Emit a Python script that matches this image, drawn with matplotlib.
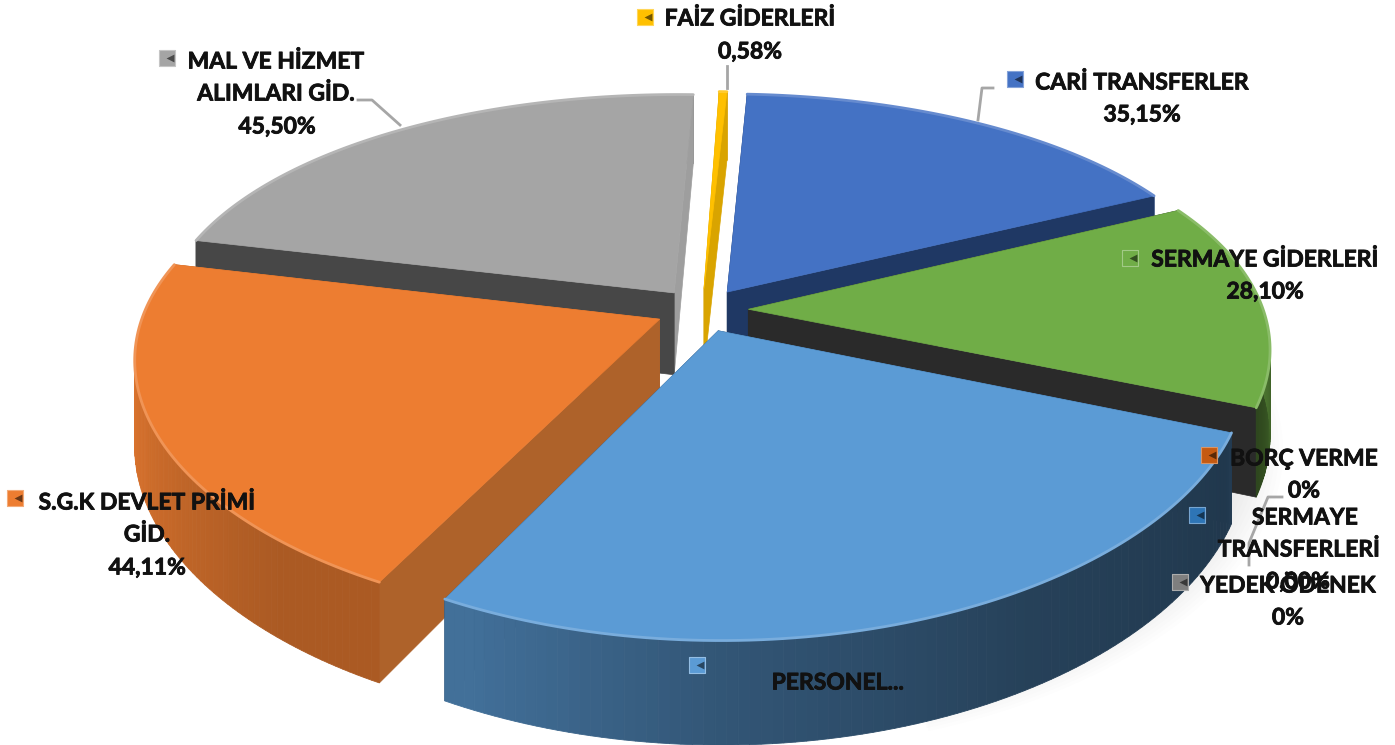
import numpy as np
import matplotlib
matplotlib.use("Agg")
import matplotlib.pyplot as plt
from matplotlib.patches import Polygon
from matplotlib.colors import to_rgb
import matplotlib.patheffects as pe

# ---- data (clockwise from the top) ----
categories = ["FAİZ GİDERLERİ", "CARİ TRANSFERLER", "SERMAYE GİDERLERİ", "BORÇ VERME",
              "SERMAYE TRANSFERLERİ", "YEDEK ÖDENEK", "PERSONEL", "S.G.K DEVLET PRİMİ GİD.",
              "MAL VE HİZMET ALIMLARI GİD."]
values = [0.58, 35.15, 28.10, 0.0, 0.0, 0.0, 55.0, 44.11, 45.50]
colors = ["#FFC000", "#4472C4", "#70AD47", "#C55A11", "#2E75B6", "#7F7F7F", "#5B9BD5", "#ED7D31", "#A5A5A5"]
# side faces of each slice: the face at its lower angle, the face at its higher angle
faces = {"FAİZ GİDERLERİ": ("#D9A400", "#D9A400"),
         "CARİ TRANSFERLER": ("#1F3864", "#1F3864"),
         "SERMAYE GİDERLERİ": ("#2A2A2A", "#2A2A2A"),
         "PERSONEL": ("#1E3A58", "#1E3A58"),
         "S.G.K DEVLET PRİMİ GİD.": ("#AE622A", "#AE622A"),
         "MAL VE HİZMET ALIMLARI GİD.": ("#9E9E9E", "#474747")}
draw_order = ["MAL VE HİZMET ALIMLARI GİD.", "FAİZ GİDERLERİ", "CARİ TRANSFERLER",
              "SERMAYE GİDERLERİ", "S.G.K DEVLET PRİMİ GİD.", "PERSONEL"]

W, H = 1395, 745
fig = plt.figure(figsize=(W / 100, H / 100), dpi=100)
ax = fig.add_axes([0, 0, 1, 1])

explode = [0.09] * len(values)
wedges, _ = ax.pie(values, explode=explode, startangle=88, counterclock=False, colors=colors)
geom = {}
for name, w in zip(categories, wedges):
    geom[name] = (w.center, w.theta1, w.theta2, w.r)
    w.remove()
ax.set_aspect("auto")
ax.set_xlim(0, W)
ax.set_ylim(H, 0)
ax.axis("off")

CX, CY, RX, RY, K, KX, DEPTH = 702, 310, 515, 242, 0.19, 0.15, 83


def project(x, y, z=0.0):
    x, y = np.asarray(x, float), np.asarray(y, float)
    s = 1 / (1 + K * y)
    sx = 1 / (1 + KX * y)
    return CX + RX * x * sx, CY - RY * y * s + DEPTH * z * s


def shade(theta):
    t = np.mod(theta, 360)
    t = np.where(t < 60, t + 360, t)
    return np.interp(t, [60, 120, 180, 200, 230, 245, 270, 300, 335, 360, 385, 420],
                     [.6, .7, .97, .88, .72, .72, .55, .42, .36, .68, .72, .7])


def scaled(col, f):
    return tuple(np.clip(np.array(to_rgb(col)) * f, 0, 1))


def lighter(col, f):
    c = np.array(to_rgb(col))
    return tuple(c + (1 - c) * f)


# soft shadow behind the pie, lower right
for g in np.linspace(1.0, 1.07, 10):
    th = np.radians(np.linspace(-72, 22, 80))
    sx, sy = project(0.04 + g * np.cos(th), -0.02 + g * np.sin(th), 1.05)
    ax.fill(np.r_[CX + 200, sx], np.r_[CY + 150, sy], color="k", alpha=.008, lw=0, zorder=0.5)

z = 1


def wall(ax_x, ax_y, th, col, name, mask):
    global z
    for j in range(len(th) - 1):
        if not mask[j]:
            continue
        q = [project(ax_x[j], ax_y[j], 0), project(ax_x[j + 1], ax_y[j + 1], 0),
             project(ax_x[j + 1], ax_y[j + 1], 1), project(ax_x[j], ax_y[j], 1)]
        f = float(shade(th[j])) if name != "FAİZ GİDERLERİ" else .85
        fc = scaled(col, f)
        ax.add_patch(Polygon(q, closed=True, fc=fc, ec=fc, lw=.6, zorder=z))
    z += 1


for name in draw_order:
    i = categories.index(name)
    (cx, cy), t1, t2, r = geom[name]
    col = colors[i]
    th = np.linspace(t1, t2, 90)
    ax_x = cx + r * np.cos(np.radians(th))
    ax_y = cy + r * np.sin(np.radians(th))
    back = np.sin(np.radians(th)) >= 0

    # the far part of the curved wall, then the radial faces, then the near part
    wall(ax_x, ax_y, th, col, name, back)
    for ang, fc in zip((t1, t2), faces[name]):
        ex, ey = cx + r * np.cos(np.radians(ang)), cy + r * np.sin(np.radians(ang))
        a = project(cx, cy, 0); b = project(ex, ey, 0)
        c = project(ex, ey, 1); d = project(cx, cy, 1)
        ax.add_patch(Polygon([a, b, c, d], closed=True, fc=fc, ec=fc, lw=.5, zorder=z))
    z += 1
    wall(ax_x, ax_y, th, col, name, ~back)

    # top surface
    px = np.concatenate([[cx], ax_x])
    py = np.concatenate([[cy], ax_y])
    tx, ty = project(px, py)
    ax.add_patch(Polygon(np.column_stack([tx, ty]), closed=True, fc=col, ec=col, lw=.5, zorder=z))
    z += 1
    rx, ry = project(ax_x, ax_y)
    ax.plot(rx, ry, color=lighter(col, .18), lw=2, zorder=z, solid_capstyle="round")
    z += 1

# leader lines
leader_color = "#A6A6A6"
leaders = [([358, 372, 400], [100, 100, 125]),
           ([727, 727], [66, 88]),
           ([993, 982, 978], [88, 88, 120]),
           ([1282, 1268, 1249, 1249], [497, 497, 543, 565])]
for lx, ly in leaders:
    ax.plot(lx, ly, color=leader_color, lw=2, zorder=100)


# legend keys inside the data labels
def key(x, y, col):
    ax.scatter([x], [y], marker="s", s=125, color=[col], edgecolors=[lighter(col, .35)],
               linewidths=.8, zorder=110)
    ax.scatter([x + 2.5], [y], marker="<", s=32, color=[scaled(col, .45)], linewidths=0, zorder=111)


key_positions = {"FAİZ GİDERLERİ": (645, 17), "CARİ TRANSFERLER": (1015, 79),
                 "SERMAYE GİDERLERİ": (1130, 258), "BORÇ VERME": (1209, 455),
                 "SERMAYE TRANSFERLERİ": (1197, 515), "YEDEK ÖDENEK": (1180, 582),
                 "PERSONEL": (697, 665), "S.G.K DEVLET PRİMİ GİD.": (15, 498),
                 "MAL VE HİZMET ALIMLARI GİD.": (167, 58)}
for n, (kx, ky) in key_positions.items():
    key(kx, ky, colors[categories.index(n)])

font = dict(family=["Lato", "DejaVu Sans"], fontweight="bold", fontsize=16.5, color="#111111",
            ha="center", va="center", zorder=120,
            path_effects=[pe.withStroke(linewidth=.6, foreground="#111111")])
label_lines = [("FAİZ GİDERLERİ", 750, 19), ("0,58%", 750, 52),
               ("MAL VE HİZMET", 276, 62), ("ALIMLARI GİD.", 276, 94), ("45,50%", 277, 127),
               ("CARİ TRANSFERLER", 1142, 83), ("35,15%", 1142, 115),
               ("SERMAYE GİDERLERİ", 1265, 260), ("28,10%", 1265, 292),
               ("BORÇ VERME", 1304, 459), ("0%", 1304, 491),
               ("SERMAYE", 1305, 518), ("TRANSFERLERİ", 1299, 550), ("0,00%", 1298, 582),
               ("YEDEK ÖDENEK", 1288, 586), ("0%", 1288, 618),
               ("S.G.K DEVLET PRİMİ", 147, 503), ("GİD.", 147, 535), ("44,11%", 147, 568),
               ("PERSONEL...", 838, 683)]
for s, x, y in label_lines:
    ax.text(x, y, s, **font)

fig.savefig("out.png", dpi=100, facecolor="white")
